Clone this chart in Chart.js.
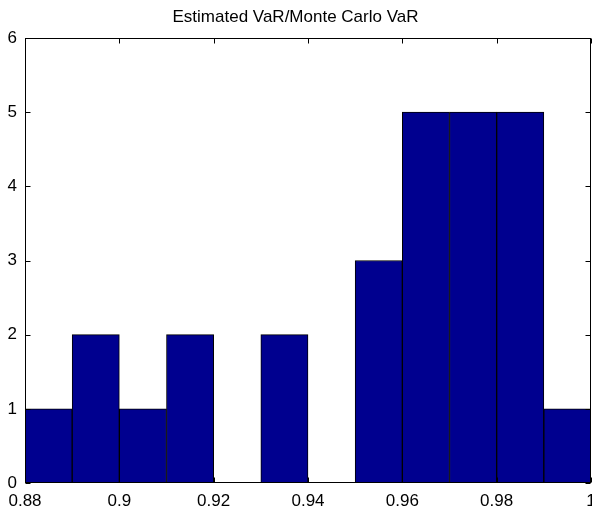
<!DOCTYPE html>
<html>
<head>
<meta charset="utf-8">
<script src="https://cdn.jsdelivr.net/npm/chart.js@4/dist/chart.umd.min.js"></script>
<style>
  html, body { margin: 0; padding: 0; background: #fff; }
  #wrap { width: 592px; height: 512px; }
</style>
</head>
<body>
<div id="wrap"><canvas id="c" width="592" height="512"></canvas></div>
<script>
// Histogram bins (centres) and counts of the VaR ratio
const binCenters = [0.885, 0.895, 0.905, 0.915, 0.925, 0.935, 0.945, 0.955, 0.965, 0.975, 0.985, 0.995];
const binCounts  = [1, 2, 1, 2, 0, 2, 0, 3, 5, 5, 5, 1];
const xTickValues = [0.88, 0.9, 0.92, 0.94, 0.96, 0.98, 1];
const yTickValues = [0, 1, 2, 3, 4, 5, 6];
const titleText = 'Estimated VaR/Monte Carlo VaR';

const FONT = '"Liberation Sans", Arial, sans-serif';

// Box around the axes with inward tick marks on all four sides
const boxAndTicks = {
  id: 'boxAndTicks',
  afterDatasetsDraw(chart) {
    const { ctx, chartArea: a, scales } = chart;
    const L = Math.round(a.left) + 0.5, R = Math.round(a.right) - 0.5;
    const T = Math.round(a.top) + 0.5, B = Math.round(a.bottom) - 0.5;
    const len = 5;
    ctx.save();
    ctx.strokeStyle = '#000';
    ctx.lineWidth = 1;
    ctx.beginPath();
    scales.x.ticks.forEach(t => {
      const px = Math.round(scales.x.getPixelForValue(t.value)) + 0.5;
      ctx.moveTo(px, T); ctx.lineTo(px, T + len);
      ctx.moveTo(px, B); ctx.lineTo(px, B - len);
    });
    scales.y.ticks.forEach(t => {
      const py = Math.round(scales.y.getPixelForValue(t.value)) + 0.5;
      ctx.moveTo(L, py); ctx.lineTo(L + len, py);
      ctx.moveTo(R, py); ctx.lineTo(R - len, py);
    });
    ctx.stroke();
    ctx.strokeRect(L, T, R - L, B - T);
    ctx.restore();
  }
};

new Chart(document.getElementById('c'), {
  type: 'bar',
  data: {
    datasets: [{
      data: binCenters.map((x, i) => ({ x, y: binCounts[i] })),
      backgroundColor: 'rgb(0,0,143)',
      borderColor: '#000',
      borderWidth: 1,
      borderSkipped: false,
      barPercentage: 1,
      categoryPercentage: 1
    }]
  },
  options: {
    responsive: false,
    animation: false,
    layout: { padding: { left: 0, right: 1, top: 0, bottom: 0 } },
    plugins: {
      legend: { display: false },
      tooltip: { enabled: false },
      title: {
        display: true,
        text: titleText,
        color: '#000',
        font: { family: FONT, size: 17, weight: 'normal' },
        padding: { top: 7, bottom: 10.6 }
      }
    },
    scales: {
      x: {
        type: 'linear',
        min: 0.88,
        max: 1,
        offset: false,
        grid: { display: false, drawTicks: false },
        border: { display: false },
        afterBuildTicks(scale) { scale.ticks = xTickValues.map(v => ({ value: v })); },
        afterFit(scale) {
          scale.height = 29;
          scale.paddingLeft = 0; scale.paddingRight = 0;
        },
        ticks: {
          color: '#000',
          font: { family: FONT, size: 17 },
          padding: 8,
          maxRotation: 0,
          autoSkip: false,
          callback: v => String(v)
        }
      },
      y: {
        min: 0,
        max: 6,
        grid: { display: false, drawTicks: false },
        border: { display: false },
        afterBuildTicks(scale) { scale.ticks = yTickValues.map(v => ({ value: v })); },
        afterFit(scale) {
          scale.width = 25;
          scale.paddingTop = 0; scale.paddingBottom = 0;
        },
        ticks: {
          color: '#000',
          font: { family: FONT, size: 17 },
          padding: 8,
          callback: v => String(v)
        }
      }
    }
  },
  plugins: [boxAndTicks]
});
</script>
</body>
</html>
